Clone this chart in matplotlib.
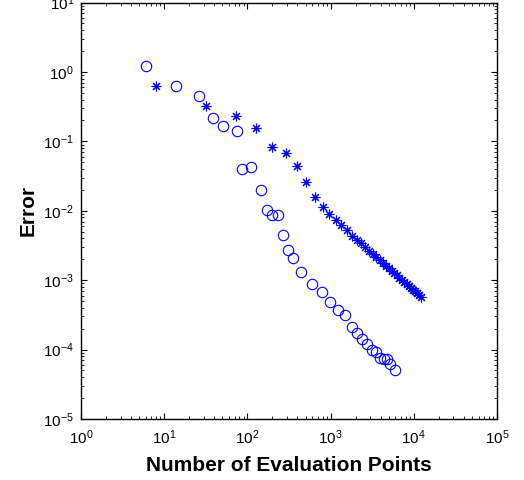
import matplotlib
matplotlib.use("Agg")
import matplotlib.pyplot as plt
from matplotlib.ticker import LogLocator, NullFormatter

plt.rcParams['font.family'] = ['Liberation Sans', 'DejaVu Sans']
plt.rcParams['mathtext.fontset'] = 'custom'
plt.rcParams['mathtext.rm'] = 'Liberation Sans'
plt.rcParams['mathtext.it'] = 'Liberation Sans:italic'
plt.rcParams['mathtext.bf'] = 'Liberation Sans:bold'

# Series A (circles)
circle_n = [6, 14, 26, 38.5, 51, 75, 87, 112, 147, 173, 200, 235, 270, 307, 356,
            440, 602, 780, 991, 1227, 1490, 1790, 2080, 2390, 2740, 3175, 3515,
            3890, 4350, 4775, 5230, 5890]
circle_err = [1.23, 0.62, 0.456, 0.218, 0.169, 0.140, 0.0393, 0.042, 0.0196, 0.0104,
              0.00875, 0.00875, 0.00441, 0.00275, 0.00206, 0.00132, 0.00089,
              0.000667, 0.000479, 0.000368, 0.000312, 0.000214, 0.000174,
              0.000143, 0.000121, 0.000100, 0.000091, 0.000076, 0.000072,
              0.000072, 0.000063, 0.000050]

# Series B (asterisks)
star_n = [8, 32, 72, 128, 200, 288, 392, 512, 648, 800, 968, 1152, 1352, 1568,
          1800, 2048, 2312, 2592, 2888, 3200, 3528, 3872, 4232, 4608, 5000, 5408,
          5832, 6272, 6728, 7200, 7688, 8192, 8712, 9248, 9800, 10368, 10952,
          11552, 12168]
star_err = [0.635, 0.321, 0.230, 0.155, 0.0841, 0.0668, 0.044, 0.0257, 0.0159,
            0.0114, 0.0091, 0.0074, 0.0062, 0.0052, 0.0044, 0.00384, 0.00338,
            0.00299, 0.00267, 0.00239, 0.00216, 0.00195, 0.00178, 0.00162,
            0.00149, 0.00137, 0.00127, 0.00117, 0.00109, 0.00101, 0.000944,
            0.000883, 0.000827, 0.000776, 0.000730, 0.000688, 0.000649,
            0.000613, 0.00058]

xlabel = 'Number of Evaluation Points'
ylabel = 'Error'

fig = plt.figure(figsize=(5.24, 4.8), dpi=100)
ax = fig.add_axes([81/524, 1 - 419/480, (497 - 81)/524, (419 - 2.5)/480])

ax.plot(circle_n, circle_err, linestyle='none', marker='o', markersize=7.5,
        markerfacecolor='none', markeredgecolor=(0, 0, 1), markeredgewidth=0.8)
ax.plot(star_n, star_err, linestyle='none', marker=(8, 2, 0), markersize=7,
        markeredgecolor=(0, 0, 1), markeredgewidth=0.8, color=(0, 0, 1))

ax.set_xscale('log')
ax.set_yscale('log')
ax.set_xlim(1, 1e5)
ax.set_ylim(1e-5, 1e1)

ax.xaxis.set_major_locator(LogLocator(base=10, numticks=10))
ax.yaxis.set_major_locator(LogLocator(base=10, numticks=10))
ax.xaxis.set_minor_locator(LogLocator(base=10, subs=range(2, 10), numticks=20))
ax.yaxis.set_minor_locator(LogLocator(base=10, subs=range(2, 10), numticks=20))
ax.xaxis.set_minor_formatter(NullFormatter())
ax.yaxis.set_minor_formatter(NullFormatter())

ax.tick_params(which='both', direction='in', top=True, right=True,
               labelsize=11, colors='black')
ax.tick_params(which='major', length=4, width=0.8, pad=5)
ax.tick_params(axis='x', which='major', pad=7)
ax.tick_params(which='minor', length=2.2, width=0.6)
for s in ax.spines.values():
    s.set_linewidth(1.0)

ax.set_xlabel(xlabel, fontsize=15, fontweight='bold', labelpad=6)
ax.set_ylabel(ylabel, fontsize=15, fontweight='bold', labelpad=4)

fig.savefig('out.png', dpi=100)
